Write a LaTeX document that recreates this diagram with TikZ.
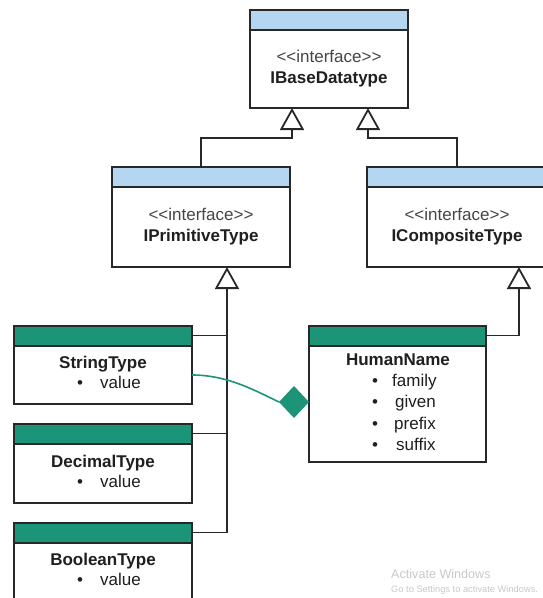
\documentclass[tikz,border=0pt]{standalone}
\usepackage{fontspec}
\setmainfont{Liberation Sans}
\usetikzlibrary{arrows.meta,shapes.geometric}

\definecolor{ifblue}{RGB}{180,214,240}
\definecolor{clsgreen}{RGB}{27,148,120}
\definecolor{edgegray}{RGB}{40,40,40}
\definecolor{stereogray}{RGB}{70,70,70}
\definecolor{markgray}{RGB}{200,200,200}

\begin{document}
\begin{tikzpicture}[x=1pt,y=-1pt,
  umlbox/.style={rectangle, draw=edgegray, line width=1.8pt, fill=white,
    inner sep=0pt, outer sep=0pt,
    path picture={
      \fill[#1] (path picture bounding box.north west)
        rectangle ([yshift=-20pt]path picture bounding box.north east);
      \draw[edgegray, line width=1.8pt]
        ([yshift=-20pt]path picture bounding box.north west)
        -- ([yshift=-20pt]path picture bounding box.north east);
    }},
  stereo/.style={anchor=base, text=stereogray, font=\fontsize{17}{20}\selectfont},
  cname/.style={anchor=base, text=black!88, font=\bfseries\fontsize{17}{20}\selectfont},
  bul/.style={anchor=base, text=black!88, font=\fontsize{17}{20}\selectfont},
  attr/.style={anchor=base west, text=black!88, inner xsep=0pt, font=\fontsize{17}{20}\selectfont},
  inherit/.style={draw=edgegray, line width=1.8pt,
    -{Triangle[open, length=22pt, width=24pt, line width=1.8pt]}},
  link/.style={draw=edgegray, line width=1.8pt},
  compose/.style={draw=clsgreen, line width=1.6pt},
  wmark/.style={anchor=base west, text=markgray, inner sep=0pt}
]
\useasboundingbox (0,0) rectangle (543,598);

% interfaces
\node[umlbox=ifblue, minimum width=158pt, minimum height=98pt]  (base) at (329,59) {};
\node[umlbox=ifblue, minimum width=178pt, minimum height=100pt] (prim) at (201,217) {};
\node[umlbox=ifblue, minimum width=180pt, minimum height=100pt] (comp) at (457,217) {};

\node[stereo] (baseS) at (329,62)  {<{}<interface>{}>};
\node[cname]  (baseN) at (329,83)  {IBaseDatatype};
\node[stereo] (primS) at (201,220) {<{}<interface>{}>};
\node[cname]  (primN) at (201,241) {IPrimitiveType};
\node[stereo] (compS) at (457,220) {<{}<interface>{}>};
\node[cname]  (compN) at (457,241) {ICompositeType};

% concrete types
\node[umlbox=clsgreen, minimum width=178pt, minimum height=78pt]  (str)  at (103,365)   {};
\node[umlbox=clsgreen, minimum width=178pt, minimum height=79pt]  (dec)  at (103,463.5) {};
\node[umlbox=clsgreen, minimum width=178pt, minimum height=79pt]  (bool) at (103,562.5) {};
\node[umlbox=clsgreen, minimum width=177pt, minimum height=136pt] (human) at (397.5,394) {};

\node[cname] (strN)  at (103,368) {StringType};
\node[bul]   (strB)  at (80,388)  {\textbullet};
\node[attr]  (strA)  at (100,388) {value};
\node[cname] (decN)  at (103,467) {DecimalType};
\node[bul]   (decB)  at (80,487)  {\textbullet};
\node[attr]  (decA)  at (100,487) {value};
\node[cname] (boolN) at (103,565) {BooleanType};
\node[bul]   (boolB) at (80,585)  {\textbullet};
\node[attr]  (boolA) at (100,585) {value};

\node[cname] (humN) at (398,365) {HumanName};
\node[bul]  (humB1) at (375,386) {\textbullet};
\node[attr] (humA1) at (392,386) {family};
\node[bul]  (humB2) at (375,407) {\textbullet};
\node[attr] (humA2) at (395,407) {given};
\node[bul]  (humB3) at (375,429) {\textbullet};
\node[attr] (humA3) at (394,429) {prefix};
\node[bul]  (humB4) at (375,450) {\textbullet};
\node[attr] (humA4) at (396,450) {suffix};

% generalisations
\draw[inherit] (prim.north) -- ++(0,-29) -| ([xshift=-37pt]base.south);
\draw[inherit] (comp.north) -- ++(0,-29) -| ([xshift=39pt]base.south);
\draw[inherit] ([yshift=-9.5pt]bool.north east) -| ([xshift=26pt]prim.south);
\draw[link] ([yshift=-9.5pt]str.north east) -- ++(35,0);
\draw[link] ([yshift=-9.5pt]dec.north east) -- ++(35,0);
\draw[inherit] ([yshift=-9.5pt]human.north east) -| ([xshift=62pt]comp.south);

% composition
\node[diamond, fill=clsgreen, minimum width=30pt, minimum height=32pt,
      inner sep=0pt, outer sep=0pt] (dia) at (294,402) {};
\draw[compose] ([yshift=-10pt]str.east) .. controls +(35,0) and +(-25,-12) .. (dia.west);

% system watermark
\node[wmark, font=\fontsize{12.6}{14}\selectfont] (wm1) at (391,578) {Activate Windows};
\node[wmark, font=\fontsize{9.3}{10}\selectfont]  (wm2) at (391,592) {Go to Settings to activate Windows.};
\end{tikzpicture}
\end{document}
